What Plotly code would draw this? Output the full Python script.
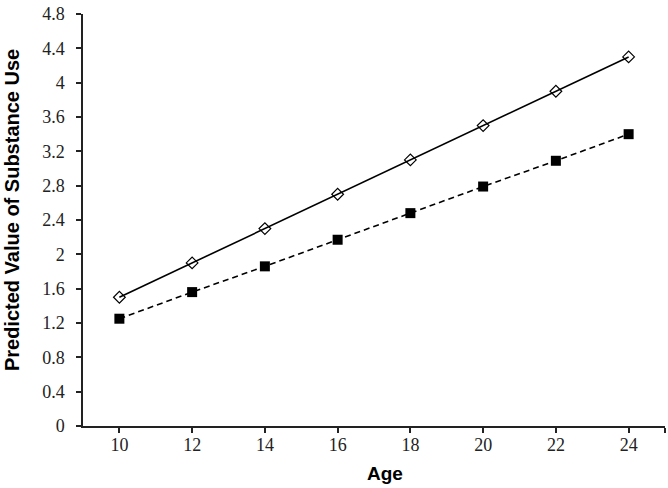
import plotly.graph_objects as go

ages = [10, 12, 14, 16, 18, 20, 22, 24]
series_solid = [1.5, 1.9, 2.3, 2.7, 3.1, 3.5, 3.9, 4.3]
series_dashed = [1.25, 1.56, 1.86, 2.17, 2.48, 2.79, 3.09, 3.40]
x_tick_vals = [10, 12, 14, 16, 18, 20, 22, 24, 25]
x_tick_text = ["10", "12", "14", "16", "18", "20", "22", "24", ""]
y_tick_vals = [0, 0.4, 0.8, 1.2, 1.6, 2, 2.4, 2.8, 3.2, 3.6, 4, 4.4, 4.8]
y_tick_text = ["0", "0.4", "0.8", "1.2", "1.6", "2", "2.4", "2.8", "3.2", "3.6", "4", "4.4", "4.8"]
x_title = "Age"
y_title = "Predicted Value of Substance Use"

fig = go.Figure()
fig.add_trace(go.Scatter(
    x=ages, y=series_solid, mode="lines+markers",
    line=dict(color="black", width=1.6, dash="solid"),
    marker=dict(symbol="diamond-open", size=9, color="black", line=dict(width=1.2, color="black")),
    showlegend=False, cliponaxis=False,
))
fig.add_trace(go.Scatter(
    x=ages, y=series_dashed, mode="lines+markers",
    line=dict(color="black", width=1.6, dash="6px,4px"),
    marker=dict(symbol="square", size=10, color="black"),
    showlegend=False, cliponaxis=False,
))

tick_font = dict(family="Liberation Serif, Times New Roman, serif", size=18, color="#222")
title_font = dict(family="Liberation Sans, Arial, sans-serif", size=19, color="black")

fig.update_layout(
    width=668, height=488,
    margin=dict(l=83, r=3, t=14, b=62),
    paper_bgcolor="white", plot_bgcolor="white",
    xaxis=dict(
        range=[9, 25], tickvals=x_tick_vals, ticktext=x_tick_text,
        showgrid=False, zeroline=False, showline=True, linecolor="#222", linewidth=1.5,
        ticks="outside", ticklen=5, tickwidth=1.5, tickcolor="#222",
        tickfont=tick_font, automargin=False, ticklabeloverflow="allow",
        ticklabelstandoff=-3,
    ),
    yaxis=dict(
        range=[0, 4.8], tickvals=y_tick_vals, ticktext=y_tick_text,
        showgrid=False, zeroline=False, showline=True, linecolor="#222", linewidth=1.5,
        ticks="outside", ticklen=5, tickwidth=1.5, tickcolor="#222",
        tickfont=tick_font, automargin=False, ticklabelstandoff=8,
        ticklabeloverflow="allow",
    ),
    annotations=[
        dict(text="<b>" + x_title + "</b>", xref="paper", yref="paper",
             x=0.519, y=-0.1165, xanchor="center", yanchor="middle",
             showarrow=False, font=title_font),
        dict(text="<b>" + y_title + "</b>", xref="paper", yref="paper",
             x=-0.122, y=0.524, xanchor="center", yanchor="middle", textangle=-90,
             showarrow=False, font=dict(family="Liberation Sans, Arial, sans-serif", size=20, color="black")),
    ],
)

fig.write_html(
    "out.html",
    config={"displayModeBar": False},
    post_script="document.body.style.margin='0px';document.body.style.overflow='hidden';",
)
